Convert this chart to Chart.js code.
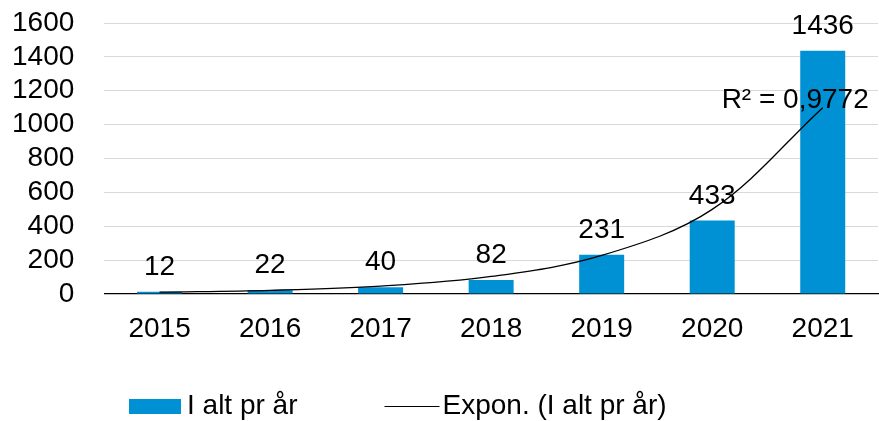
<!DOCTYPE html>
<html>
<head>
<meta charset="utf-8">
<script src="https://cdn.jsdelivr.net/npm/chart.js@4/dist/chart.umd.min.js"></script>
<style>
  html, body { margin: 0; padding: 0; background: #fff; }
  canvas { display: block; }
</style>
</head>
<body>
<canvas id="chart" width="879" height="421"></canvas>
<script>
// data
const years = ['2015', '2016', '2017', '2018', '2019', '2020', '2021'];
const totals = [12, 22, 40, 82, 231, 433, 1436];
// exponential trendline as drawn (read at each year)
const trendValues = [10, 21, 46, 103, 227, 499, 1100];
const yTickValues = [0, 200, 400, 600, 800, 1000, 1200, 1400, 1600];
const barLabel = 'I alt pr år';
const trendLabel = 'Expon. (I alt pr år)';
const rSquaredText = 'R² = 0,9772';

const FONT = '"Liberation Sans", Arial, sans-serif';
const BAR_COLOR = '#0090D4';

Chart.defaults.font.family = FONT;
Chart.defaults.font.size = 28;
Chart.defaults.color = '#000';

// value labels, R² text and the legend drawn straight on the canvas
const annotations = {
    id: 'annotations',
    afterDatasetsDraw(chart) {
        const ctx = chart.ctx;
        const barMeta = chart.getDatasetMeta(1);
        const x = chart.scales.x;
        const y = chart.scales.y;

        ctx.save();
        ctx.font = '28px ' + FONT;
        ctx.fillStyle = '#000';
        ctx.textAlign = 'center';
        ctx.textBaseline = 'alphabetic';
        barMeta.data.forEach((bar, i) => {
            ctx.fillText(String(totals[i]), bar.x, bar.y - 17);
        });

        // R² sits at the end of the trendline
        const last = trendValues.length - 1;
        ctx.textAlign = 'right';
        ctx.fillText(rSquaredText, x.getPixelForValue(last) + 46, y.getPixelForValue(trendValues[last]));
        ctx.restore();
    },
    afterDraw(chart) {
        const ctx = chart.ctx;
        const baseY = 414;
        let cx = 129;

        ctx.save();
        ctx.font = '28px ' + FONT;
        ctx.textBaseline = 'alphabetic';
        ctx.textAlign = 'left';

        ctx.fillStyle = BAR_COLOR;
        ctx.fillRect(cx, 399, 52, 15);
        cx += 52 + 6;
        ctx.fillStyle = '#000';
        ctx.fillText(barLabel, cx, baseY);
        cx += ctx.measureText(barLabel).width + 87;

        ctx.strokeStyle = '#000';
        ctx.lineWidth = 1.2;
        ctx.beginPath();
        ctx.moveTo(cx, 406.5);
        ctx.lineTo(cx + 55, 406.5);
        ctx.stroke();
        cx += 55 + 3;
        ctx.fillText(trendLabel, cx, baseY);
        ctx.restore();
    }
};

new Chart(document.getElementById('chart'), {
    type: 'bar',
    data: {
        labels: years,
        datasets: [
            {
                type: 'line',
                label: trendLabel,
                data: trendValues,
                borderColor: '#000',
                borderWidth: 1.3,
                pointRadius: 0,
                tension: 0.35,
                fill: false,
                order: 0
            },
            {
                label: barLabel,
                data: totals,
                backgroundColor: BAR_COLOR,
                barPercentage: 0.407,
                categoryPercentage: 1,
                order: 1
            }
        ]
    },
    options: {
        responsive: false,
        animation: false,
        layout: {
            padding: { left: 9, right: 1, top: 23, bottom: 55.5 }
        },
        scales: {
            x: {
                grid: { display: false, drawTicks: false },
                border: { display: true, color: '#000', width: 1.2 },
                ticks: { padding: 19, font: { size: 28 } }
            },
            y: {
                min: 0,
                max: 1600,
                afterBuildTicks: axis => {
                    axis.ticks = yTickValues.map(v => ({ value: v }));
                },
                // invisible tick marks give the gap between labels and plot
                grid: { color: '#d9d9d9', lineWidth: 1, drawTicks: true, tickLength: 27, tickColor: 'rgba(0,0,0,0)' },
                border: { display: false },
                ticks: {
                    padding: 3,
                    autoSkip: false,
                    font: { size: 28 },
                    callback: value => String(value)
                }
            }
        },
        plugins: {
            legend: { display: false },
            tooltip: { enabled: false }
        }
    },
    plugins: [annotations]
});
</script>
</body>
</html>
